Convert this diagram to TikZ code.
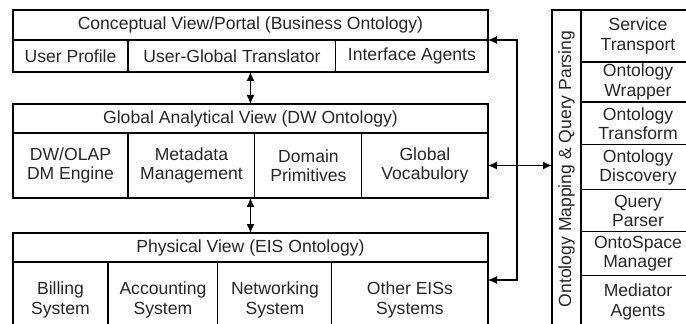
\documentclass[tikz,border=0pt]{standalone}
\usepackage{fontspec}
\setmainfont{Liberation Sans}
\usepackage{tikz}
\usetikzlibrary{arrows.meta, positioning, calc, fit}

\begin{document}
\begin{tikzpicture}[
    x=0.02cm, y=-0.02cm,
    node distance=0pt,
    cell/.style={rectangle, draw, line width=0.6pt, inner sep=1pt, outer sep=0pt, align=center, font=\fontsize{10}{11}\selectfont, text=black!85},
    viewtitle/.style={cell, anchor=north west, minimum width=9.5cm},
    sidecell/.style={cell, minimum width=2.28cm},
    blockframe/.style={draw, line width=1.2pt, inner sep=0pt},
    arrowstyle/.style={{Latex[length=1.8mm,width=1.6mm]}-{Latex[length=1.8mm,width=1.6mm]}, line width=0.7pt}
]
\useasboundingbox (0,0) rectangle (686,324);

% Conceptual view (top)
\node[viewtitle, minimum height=0.6cm] (concept) at (13,10) {Conceptual View/Portal (Business Ontology)};
\node[cell, minimum width=2.3cm, minimum height=0.64cm, below right=0pt of concept.south west] (profile) {User Profile};
\node[cell, minimum width=4.16cm, minimum height=0.64cm, right=0pt of profile] (translator) {User-Global Translator};
\node[cell, minimum width=3.04cm, minimum height=0.64cm, right=0pt of translator] (agents) {Interface Agents};

% Global analytical view (middle)
\node[viewtitle, minimum height=0.58cm] (global) at (13,104) {Global Analytical View (DW Ontology)};
\node[cell, minimum width=2.3cm, minimum height=1.3cm, below right=0pt of global.south west] (dwolap) {DW/OLAP\\DM Engine};
\node[cell, minimum width=2.54cm, minimum height=1.3cm, right=0pt of dwolap] (metadata) {Metadata\\Management};
\node[cell, minimum width=2.14cm, minimum height=1.3cm, right=0pt of metadata] (domain) {Domain\\Primitives};
\node[cell, minimum width=2.52cm, minimum height=1.3cm, right=0pt of domain] (vocab) {Global\\Vocabulory};

% Physical view (bottom)
\node[viewtitle, minimum height=0.58cm] (physical) at (13,233) {Physical View (EIS Ontology)};
\node[cell, minimum width=1.9cm, minimum height=1.52cm, below right=0pt of physical.south west] (billing) {Billing\\System};
\node[cell, minimum width=2.2cm, minimum height=1.52cm, right=0pt of billing] (accounting) {Accounting\\System};
\node[cell, minimum width=2.28cm, minimum height=1.52cm, right=0pt of accounting] (networking) {Networking\\System};
\node[cell, minimum width=3.12cm, minimum height=1.52cm, right=0pt of networking] (othereis) {Other EISs\\Systems};

% Ontology mapping panel (right)
\node[cell, rotate=90, anchor=north east, minimum width=6.36cm, minimum height=0.58cm] (mapping) at (552,10) {Ontology Mapping \& Query Parsing};
\node[sidecell, anchor=north west, minimum height=1.04cm] (transport) at (581,10) {Service\\Transport};
\node[sidecell, minimum height=0.8cm, below=of transport] (wrapper) {Ontology\\Wrapper};
\node[sidecell, minimum height=0.86cm, below=of wrapper] (transform) {Ontology\\Transform};
\node[sidecell, minimum height=0.9cm, below=of transform] (discovery) {Ontology\\Discovery};
\node[sidecell, minimum height=0.84cm, below=of discovery] (parser) {Query\\Parser};
\node[sidecell, minimum height=0.88cm, below=of parser] (ontospace) {OntoSpace\\Manager};
\node[sidecell, minimum height=1.04cm, below=of ontospace] (mediator) {Mediator\\Agents};

% Thick outlines of the blocks
\node[blockframe, fit=(concept)(profile)(agents)] (conceptblock) {};
\node[blockframe, fit=(global)(dwolap)(vocab)] (globalblock) {};
\node[blockframe, fit=(physical)(billing)(othereis)] (physicalblock) {};
\node[blockframe, fit=(mapping.north east)(mediator.south east)] (mappingblock) {};

% Arrows between views
\draw[arrowstyle] (global.north) -- (global.north |- translator.south);
\draw[arrowstyle] (physical.north) -- (physical.north |- metadata.south);
\draw[arrowstyle] (vocab.east) -- (vocab.east -| mapping.north);

% Bus line to top and bottom views
\coordinate (bustop) at ($(concept.south east)+(29,0)$);
\coordinate (bustip) at ($(othereis.north east)+(0,18)$);
\draw[arrowstyle] (concept.south east) -- (bustop) -- (bustop |- bustip) -- (bustip);

\end{tikzpicture}
\end{document}
